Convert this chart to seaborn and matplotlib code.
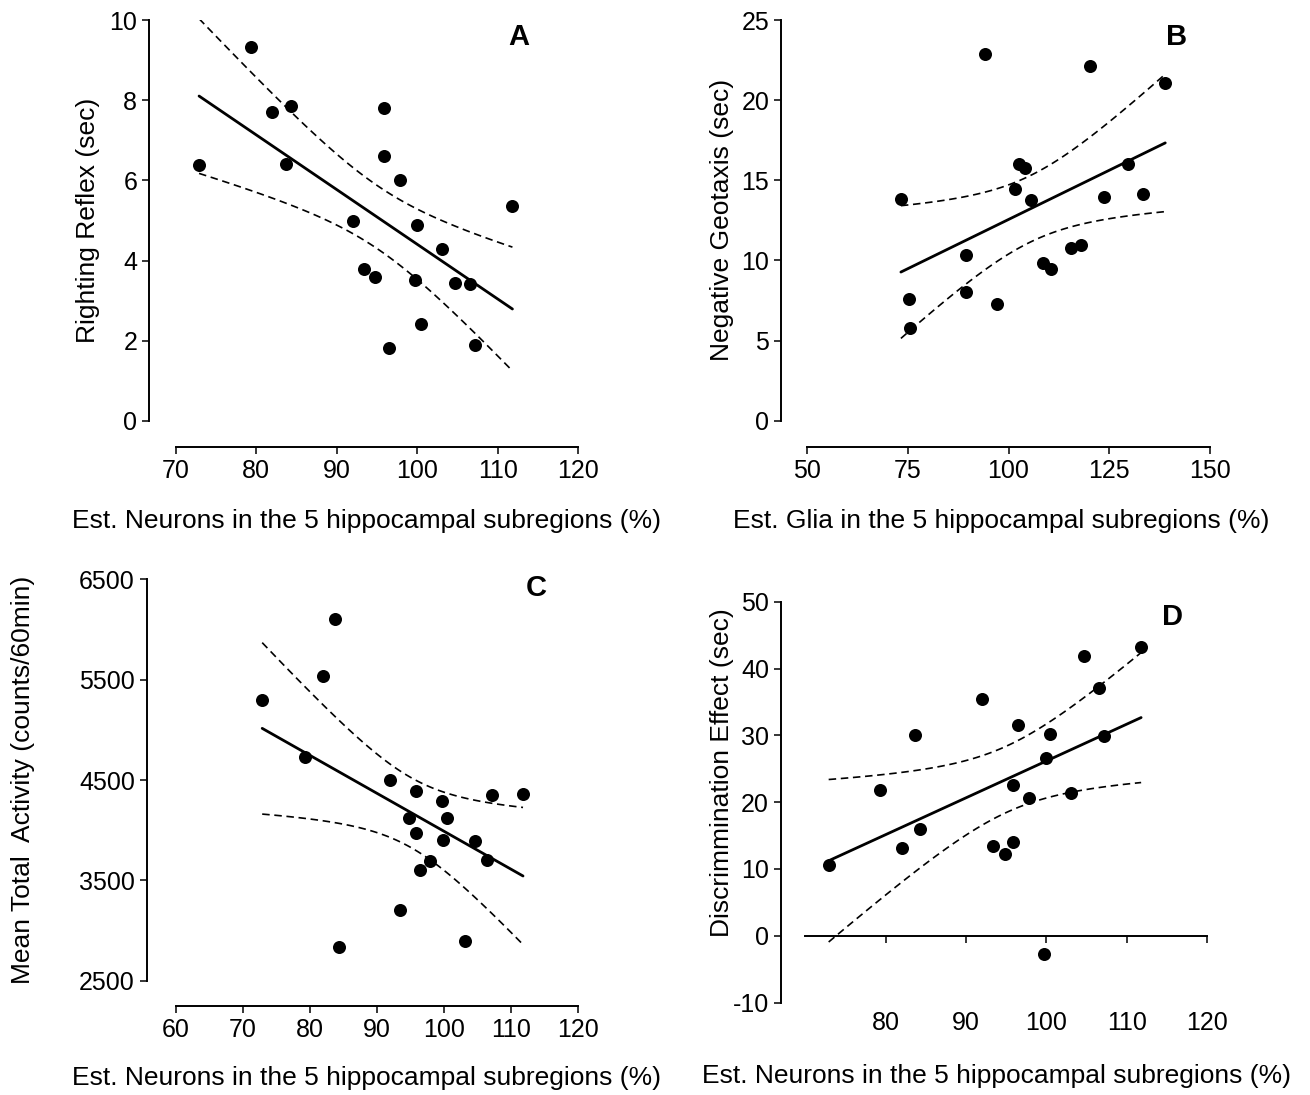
import numpy as np
import matplotlib
matplotlib.use('Agg')
import matplotlib.pyplot as plt
import seaborn as sns

# data (same 20 animals in A, C, D)
neurons = [72.9, 79.3, 82.0, 83.7, 84.3, 92.0, 93.4, 94.8, 95.8, 95.8,
           96.5, 97.9, 99.7, 99.9, 100.4, 103.1, 104.7, 106.5, 107.2, 111.8]
righting = [6.38, 9.33, 7.71, 6.40, 7.86, 4.98, 3.79, 3.58, 7.81, 6.60,
            1.81, 6.02, 3.51, 4.90, 2.41, 4.29, 3.45, 3.42, 1.90, 5.35]
activity = [5293, 4730, 5537, 6107, 2833, 4500, 3200, 4117, 4393, 3967,
            3603, 3697, 4293, 3907, 4117, 2900, 3897, 3707, 4350, 4363]
discrim = [10.6, 21.8, 13.2, 30.0, 16.0, 35.4, 13.4, 12.3, 14.0, 22.6,
           31.6, 20.6, -2.8, 26.6, 30.2, 21.4, 41.8, 37.1, 29.9, 43.2]

glia = [73.3, 75.4, 75.6, 89.4, 89.5, 94.2, 97.1, 101.5, 102.7, 104.2,
        105.6, 108.6, 110.6, 115.4, 117.9, 120.3, 123.6, 129.7, 133.4, 138.9]
geotaxis = [13.83, 7.59, 5.76, 10.34, 8.05, 22.9, 7.26, 14.45, 16.03, 15.78,
            13.79, 9.86, 9.48, 10.77, 10.98, 22.15, 13.96, 16.0, 14.16, 21.07]

x_label_neu = 'Est. Neurons in the 5 hippocampal subregions (%)'
x_label_glia = 'Est. Glia in the 5 hippocampal subregions (%)'

sns.set_style('ticks')
plt.rcParams['font.family'] = ['Liberation Sans', 'DejaVu Sans']
plt.rcParams['axes.linewidth'] = 1.4
plt.rcParams['axes.edgecolor'] = 'black'
plt.rcParams['axes.labelcolor'] = 'black'
plt.rcParams['text.color'] = 'black'
plt.rcParams['xtick.color'] = 'black'
plt.rcParams['ytick.color'] = 'black'
plt.rcParams['axes.unicode_minus'] = False

W, H = 1310, 1095
fig = plt.figure(figsize=(W / 100, H / 100), dpi=100)
T_CRIT = 2.101  # t(0.975, df=18)


def make_axes(rect, xcal, ycal):
    left, right, top, bottom = rect
    ax = fig.add_axes([left / W, 1 - bottom / H, (right - left) / W, (bottom - top) / H])
    (p1, v1), (p2, v2) = xcal
    k = (v2 - v1) / (p2 - p1)
    ax.set_xlim(v1 + (left - p1) * k, v1 + (right - p1) * k)
    (p1, v1), (p2, v2) = ycal
    k = (v2 - v1) / (p2 - p1)
    ax.set_ylim(v1 + (bottom - p1) * k, v1 + (top - p1) * k)
    return ax


def draw_fit(ax, x, y):
    x = np.asarray(x, float)
    y = np.asarray(y, float)
    sns.regplot(x=x, y=y, ax=ax, ci=None, truncate=True,
                scatter_kws=dict(s=88, color='black', linewidths=0, alpha=1),
                line_kws=dict(color='black', lw=2.0))
    n = len(x)
    b, a = np.polyfit(x, y, 1)
    resid = y - (a + b * x)
    s = np.sqrt(np.sum(resid ** 2) / (n - 2))
    sxx = np.sum((x - x.mean()) ** 2)
    grid = np.linspace(x.min(), x.max(), 100)
    fit = a + b * grid
    half = T_CRIT * s * np.sqrt(1 / n + (grid - x.mean()) ** 2 / sxx)
    for band in (fit - half, fit + half):
        sns.lineplot(x=grid, y=band, ax=ax, color='black', lw=1.2,
                     linestyle=(0, (4.5, 2.8)), estimator=None, errorbar=None)


def style(ax, xb, yb, xticks, yticks):
    ax.spines['top'].set_visible(False)
    ax.spines['right'].set_visible(False)
    ax.spines['bottom'].set_bounds(*xb)
    ax.spines['left'].set_bounds(*yb)
    ax.set_xticks(xticks)
    ax.set_yticks(yticks)
    ax.tick_params(direction='out', length=5, width=1.1, labelsize=18, colors='black')


def labels(ax, xl, xpos, yl, ypos):
    ax.set_xlabel(xl, fontsize=19)
    ax.set_ylabel(yl, fontsize=19)
    ax.xaxis.set_label_coords(xpos[0] / W, 1 - xpos[1] / H, transform=fig.transFigure)
    ax.yaxis.set_label_coords(ypos[0] / W, 1 - ypos[1] / H, transform=fig.transFigure)
    ax.xaxis.label.set_va('center')
    ax.yaxis.label.set_va('center')


# A
axA = make_axes((149, 578.5, 20, 447), ((175.7, 70), (578.5, 120)), ((421, 0), (20, 10)))
draw_fit(axA, neurons, righting)
style(axA, (70, 120), (0, 10), range(70, 121, 10), range(0, 11, 2))
labels(axA, x_label_neu, (367, 521), 'Righting Reflex (sec)', (88, 220))

# B
axB = make_axes((781, 1210, 20, 447), ((807, 50), (1210, 150)), ((420.7, 0), (20, 25)))
draw_fit(axB, glia, geotaxis)
style(axB, (50, 150), (0, 25), range(50, 151, 25), range(0, 26, 5))
labels(axB, x_label_glia, (1001, 521), 'Negative Geotaxis (sec)', (722, 220))

# C
axC = make_axes((146.7, 578, 579.3, 1005.7), ((175.7, 60), (578, 120)), ((980.7, 2500), (579.3, 6500)))
draw_fit(axC, neurons, activity)
style(axC, (60, 120), (2500, 6500), range(60, 121, 10), range(2500, 6501, 1000))
labels(axC, x_label_neu, (367, 1078), 'Mean Total  Activity (counts/60min)', (23, 780))

# D
axD = make_axes((780.7, 1207, 601.7, 1002.5), ((885.7, 80), (1207, 120)), ((935.7, 0), (601.7, 50)))
draw_fit(axD, neurons, discrim)
style(axD, (70, 120), (-10, 50), range(80, 121, 10), range(-10, 51, 10))
axD.spines['bottom'].set_position(('data', 0))
axD.tick_params(axis='x', pad=49)
labels(axD, x_label_neu, (996, 1076), 'Discrimmination Effect (sec)', (722, 773))

for letter, (px, py) in zip('ABCD', [(519, 37), (1177, 37), (536, 588), (1173, 617)]):
    fig.text(px / W, 1 - py / H, letter, fontsize=21, fontweight='bold',
             color='black', ha='center', va='center')

fig.savefig('out.png', dpi=100)
